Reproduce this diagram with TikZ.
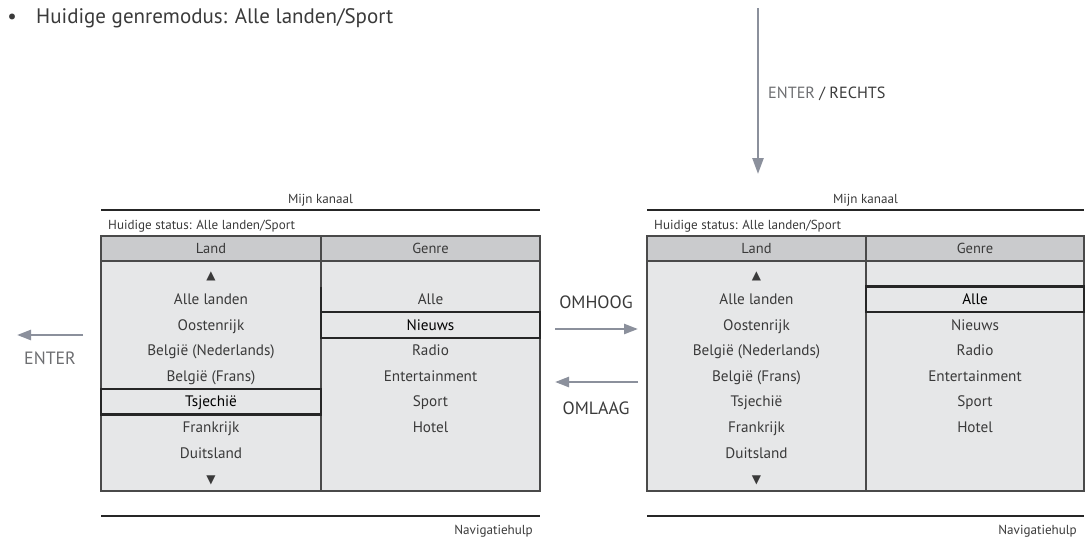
\documentclass[tikz,border=0pt]{standalone}
\usepackage{fontspec}
\setmainfont{PT Sans}
\newfontfamily\symfont{DejaVu Sans}
\usetikzlibrary{arrows.meta}
\definecolor{txt}{HTML}{3A3A3A}
\definecolor{arr}{HTML}{8B909C}
\definecolor{hdr}{HTML}{CACBCD}
\definecolor{body}{HTML}{E6E7E8}
\definecolor{brd}{HTML}{4A4A4A}
\definecolor{lbl}{HTML}{6D6E71}
\tikzset{
  cell/.style={font=\fontsize{15.2}{17}\selectfont, text=txt, inner sep=0pt, anchor=center},
  small/.style={font=\fontsize{13.1}{15}\selectfont, text=txt, inner sep=0pt},
  biglbl/.style={font=\fontsize{17.8}{20}\selectfont, text=txt, inner sep=0pt},
  garrow/.style={draw=arr, line width=2.5pt, -{Triangle[length=16pt,width=11pt]}},
  rule/.style={draw=black!85, line width=2.8pt},
  hilite/.style={draw=black!85, line width=2.4pt},
  frame/.style={draw=brd, line width=1.3pt},
}
\newcommand{\mypanel}[4]{% #1 name prefix, #2 x0, #3 mid, #4 x1
  \path[fill=hdr] (#2,236) rectangle (#4,261);
  \path[fill=body] (#2,261) rectangle (#4,491);
  \draw[frame] (#2,236) rectangle (#4,491);
  \draw[frame] (#2,261) -- (#4,261);
  \draw[frame] (#3,236) -- (#3,491);
  \draw[rule] (#2,210) -- (#4,210);
  \draw[rule] (#2,516) -- (#4,516);
  \node[small, anchor=base] (#1title) at ({(#2+#4)/2},203.5) {Mijn kanaal};
  \node[small, anchor=base west] (#1status) at ({#2+7},229.5) {Huidige status: Alle landen/Sport};
  \node[small, anchor=base east] (#1nav) at ({#4-7},534.5) {Navigatiehulp};
  \node[cell, font=\fontsize{14.5}{16}\selectfont] (#1hland) at ({(#2+#3)/2},250.5) {\strut Land};
  \node[cell, font=\fontsize{14.5}{16}\selectfont] (#1hgenre) at ({(#3+#4)/2},250.5) {\strut Genre};
  \foreach \t [count=\i] in {{\symfont\fontsize{12}{14}\selectfont ▲}, Alle landen, Oostenrijk, België (Nederlands), België (Frans), Tsjechië, Frankrijk, Duitsland, {\symfont\fontsize{12}{14}\selectfont ▼}}
    \node[cell] (#1l\i) at ({(#2+#3)/2},{263+25.56*(\i-0.5)}) {\strut\t};
  \foreach \t [count=\i from 2] in {Alle, Nieuws, Radio, Entertainment, Sport, Hotel}
    \node[cell] (#1g\i) at ({(#3+#4)/2},{263+25.56*(\i-0.5)}) {\strut\t};
}
\begin{document}
\begin{tikzpicture}[x=1pt,y=-1pt]
\useasboundingbox (0,0) rectangle (1085,539);
% bullet line
\node[biglbl, font=\fontsize{21}{23}\selectfont, anchor=base] (bul) at (12,23.5) {•};
\node[biglbl, font=\fontsize{21}{23}\selectfont, anchor=base west] (mode) at (36,23.5) {Huidige genremodus: Alle landen/Sport};
% panels
\mypanel{L}{101}{321}{540}
\mypanel{R}{647}{866}{1084}
% highlights
\draw[hilite] (101,388.8) rectangle (321,414.3);
\draw[hilite] (321,312.1) rectangle (540,337.7);
\draw[line width=2pt, draw=black!85] (321,287) -- (321,312);
\draw[hilite] (866,286.6) rectangle (1084,312.1);
\node[cell, text=black, fill=body, inner sep=1pt] at (Ll6) {\strut Tsjechië};
\node[cell, text=black, fill=body, inner sep=1pt] at (Lg3) {\strut Nieuws};
\node[cell, text=black, fill=body, inner sep=1pt] at (Rg2) {\strut Alle};
% arrows
\coordinate (vs) at (758,8);
\coordinate (ve) at (758,174);
\draw[garrow] (vs) -- (ve);
\node[biglbl, font=\fontsize{16.2}{18}\selectfont, anchor=base west] (vlbl) at (768,98) {\textcolor{lbl}{ENTER} / RECHTS};
\coordinate (ls) at (83,335);
\coordinate (le) at (17,335);
\draw[garrow, -{Triangle[length=14pt,width=10pt]}] (ls) -- (le);
\node[biglbl, text=lbl, anchor=base] (llbl) at (50,364.5) {ENTER};
\coordinate (m1s) at (555,329);
\coordinate (m1e) at (638,329);
\draw[garrow, -{Triangle[length=14pt,width=10pt]}] (m1s) -- (m1e);
\node[biglbl, anchor=base] (up) at (596,308.5) {OMHOOG};
\coordinate (m2s) at (638,382);
\coordinate (m2e) at (555,382);
\draw[garrow, -{Triangle[length=14pt,width=10pt]}] (m2s) -- (m2e);
\node[biglbl, anchor=base] (down) at (596,414.5) {OMLAAG};
\end{tikzpicture}
\end{document}
